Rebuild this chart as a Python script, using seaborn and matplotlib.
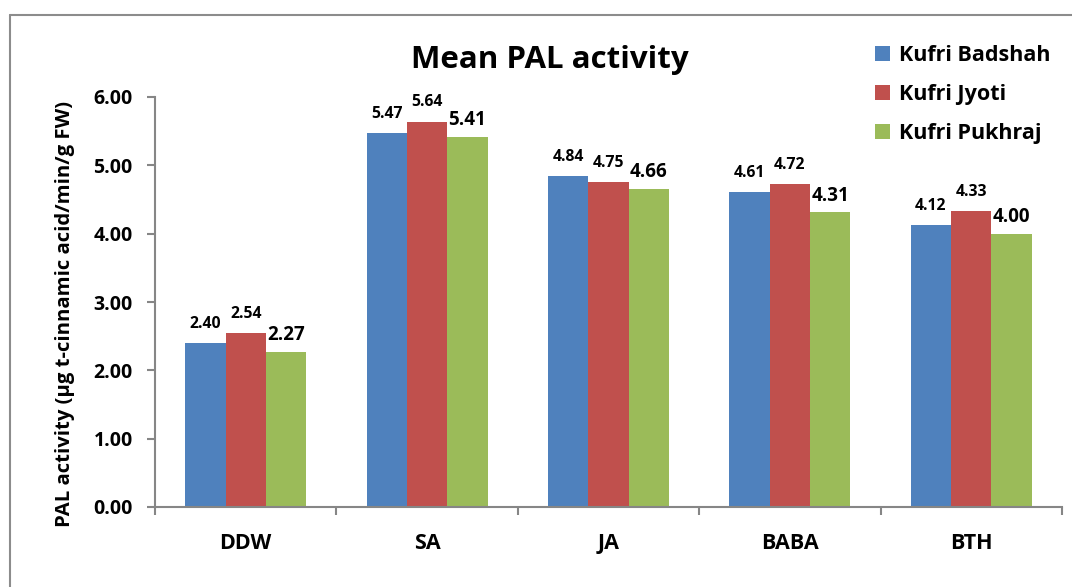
import matplotlib
matplotlib.use("Agg")
import matplotlib.pyplot as plt
import seaborn as sns
import pandas as pd
import numpy as np
from matplotlib.lines import Line2D
from matplotlib.patches import Patch
from matplotlib.ticker import FixedLocator, NullFormatter

categories = ["DDW", "SA", "JA", "BABA", "BTH"]
series_names = ["Kufri Badshah", "Kufri Jyoti", "Kufri Pukhraj"]
kufri_badshah = [2.40, 5.47, 4.84, 4.61, 4.12]
kufri_jyoti = [2.54, 5.64, 4.75, 4.72, 4.33]
kufri_pukhraj = [2.27, 5.41, 4.66, 4.31, 4.00]
colors = ["#4F81BD", "#C0504D", "#9BBB59"]

rows = []
for name, vals in zip(series_names, [kufri_badshah, kufri_jyoti, kufri_pukhraj]):
    for c, v in zip(categories, vals):
        rows.append({"Treatment": c, "Variety": name, "Value": v})
df = pd.DataFrame(rows)

sns.set_theme(style="white")
plt.rcParams['font.family'] = ['Open Sans', 'DejaVu Sans']
plt.rcParams['font.weight'] = 'bold'
plt.rcParams['text.color'] = 'black'
plt.rcParams['axes.labelcolor'] = 'black'
plt.rcParams['xtick.color'] = 'black'
plt.rcParams['ytick.color'] = 'black'

fig = plt.figure(figsize=(10.72, 5.87), dpi=100)
ax = fig.add_axes([155/1072, 1-507/587, (1062-155)/1072, (507-97)/587])

sns.barplot(data=df, x="Treatment", y="Value", hue="Variety", order=categories,
            hue_order=series_names, palette=colors, width=0.667, gap=0,
            saturation=1, ax=ax, legend=False, linewidth=0)

ax.set_ylim(0, 6)
ax.set_xlim(-0.5, len(categories) - 0.5)
ax.set_yticks(np.arange(0, 6.01, 1.0))
ax.set_yticklabels([f"{v:.2f}" for v in np.arange(0, 6.01, 1.0)], fontsize=14, fontweight='bold')
ax.set_xticks(range(len(categories)))
ax.set_xticklabels(categories, fontsize=15.5, fontweight='bold')
ax.tick_params(axis='x', which='major', length=0, pad=19)
ax.xaxis.set_minor_locator(FixedLocator(np.arange(-0.5, len(categories), 1.0)))
ax.xaxis.set_minor_formatter(NullFormatter())
ax.tick_params(axis='x', which='minor', length=6, width=1.5, color='#868686', bottom=True)
ax.tick_params(axis='y', which='major', length=6, width=1.5, color='#868686', labelcolor='black', left=True, pad=10)

for side in ['top', 'right']:
    ax.spines[side].set_visible(False)
for side in ['left', 'bottom']:
    ax.spines[side].set_color('#868686')
    ax.spines[side].set_linewidth(1.5)

ax.set_xlabel("")
ax.set_ylabel("PAL activity (µg t-cinnamic acid/min/g FW)", fontsize=14.6, fontweight='bold')
ax.yaxis.set_label_coords((75 - 155) / (1062 - 155), (507 - 314) / (507 - 97))

fig.text(550/1072, 1-60/587, "Mean PAL activity", fontsize=22.5, fontweight='bold',
         ha='center', va='center', color='black')

pads = [8, 8, 5]
sizes = [11.3, 11.3, 13.5]
for cont, p, s in zip(ax.containers, pads, sizes):
    ax.bar_label(cont, fmt="%.2f", padding=p, fontsize=s, fontweight='bold', color='black')

handles = [Patch(facecolor=c, edgecolor='none') for c in colors]
fig.legend(handles, series_names, loc='upper left', bbox_to_anchor=(866/1072, 1-36/587),
           frameon=False, prop={'size': 15.5, 'weight': 'bold'}, handlelength=0.7,
           handleheight=0.7, labelspacing=0.85, handletextpad=0.45, borderaxespad=0)

fig.add_artist(Line2D([10/1072, 10/1072], [0, 1-15/587], transform=fig.transFigure, color='#8c8c8c', lw=1.5))
fig.add_artist(Line2D([10/1072, 1], [1-15/587, 1-15/587], transform=fig.transFigure, color='#8c8c8c', lw=1.5))

fig.savefig("out.png", dpi=100)
